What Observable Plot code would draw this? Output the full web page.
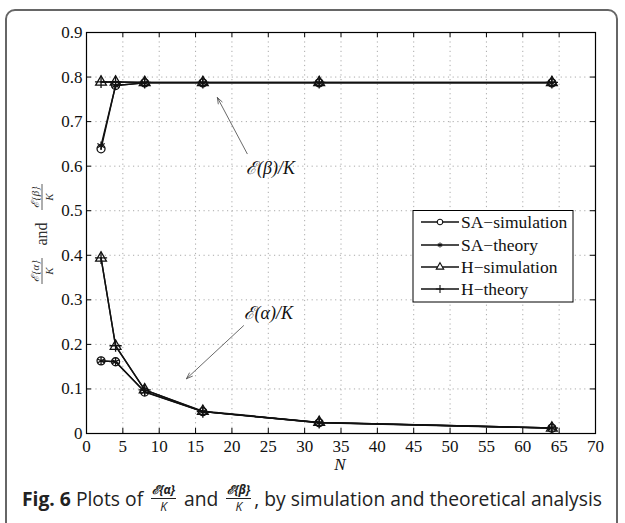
<!DOCTYPE html>
<html>
<head>
<meta charset="utf-8">
<script src="https://cdn.jsdelivr.net/npm/d3@7"></script>
<script src="https://cdn.jsdelivr.net/npm/@observablehq/plot@0.6"></script>
<style>
  html, body { margin: 0; padding: 0; background: #fff; }
  #wrap { position: relative; width: 625px; height: 523px; overflow: hidden; background: #fff; }
  #border { position: absolute; left: 5px; top: 9px; width: 613px; height: 540px;
            border: 2px solid #666; border-radius: 10px; box-sizing: border-box; }
  #chart { position: absolute; left: 0; top: 0; }
  #chart svg, #chart svg text { font-family: "Liberation Serif", serif !important; }
  #caption { position: absolute; left: 22px; top: 484px; white-space: nowrap;
             font-family: "Open Sans", sans-serif; font-size: 19.3px; color: #222; line-height: 1; }
  .frac { display: inline-flex; flex-direction: column; align-items: center; vertical-align: middle;
          font-size: 12px; margin: 0 3px; position: relative; top: -2px; }
  .frac .num { display: block; line-height: 16px; height: 16px; border-bottom: 1px solid #222; padding: 0 1px;
               font-weight: bold; font-style: italic; }
  .frac .den { display: block; line-height: 16px; height: 16px; font-style: italic; }
</style>
</head>
<body>
<div id="wrap">
  <div id="border"></div>
  <div id="chart"></div>
  <div id="caption"><b>Fig. 6</b> Plots of <span class="frac"><span class="num">ℰ{α}</span><span class="den">K</span></span> and <span class="frac"><span class="num">ℰ{β}</span><span class="den">K</span></span>, by simulation and theoretical analysis</div>
</div>
<script>
// ---- data ----
const N = [2, 4, 8, 16, 32, 64];
const seriesNames = ["SA\u2212simulation", "SA\u2212theory", "H\u2212simulation", "H\u2212theory"];
const seriesSymbols = ["circle", "asterisk", "triangle", "plus"];
const saSimAlpha = [0.163, 0.161, 0.093, 0.049, 0.024, 0.012];
const saSimBeta  = [0.639, 0.781, 0.787, 0.787, 0.787, 0.787];
const saThAlpha  = [0.163, 0.161, 0.094, 0.049, 0.0245, 0.0123];
const saThBeta   = [0.646, 0.781, 0.787, 0.787, 0.787, 0.787];
const hSimAlpha  = [0.394, 0.196, 0.098, 0.050, 0.025, 0.0125];
const hSimBeta   = [0.789, 0.789, 0.788, 0.788, 0.788, 0.788];
const hThAlpha   = [0.394, 0.197, 0.098, 0.049, 0.0246, 0.0123];
const hThBeta    = [0.789, 0.789, 0.788, 0.788, 0.788, 0.788];
const xTicks = [0, 5, 10, 15, 20, 25, 30, 35, 40, 45, 50, 55, 60, 65, 70];
const yTicks = [0, 0.1, 0.2, 0.3, 0.4, 0.5, 0.6, 0.7, 0.8, 0.9];
const annotations = [
  {text: "ℰ(β)/K", x: 25.3, y: 0.595, x1: 22.1, y1: 0.628, x2: 18.0, y2: 0.754},
  {text: "ℰ(α)/K", x: 25.0, y: 0.269, x1: 21.6, y1: 0.242, x2: 13.75, y2: 0.123}
];

const seriesData = [
  [saSimAlpha, saSimBeta], [saThAlpha, saThBeta], [hSimAlpha, hSimBeta], [hThAlpha, hThBeta]
];
const rows = [];
seriesData.forEach(([a, b], i) => {
  N.forEach((n, j) => {
    rows.push({series: seriesNames[i], metric: "alpha", N: n, v: a[j]});
    rows.push({series: seriesNames[i], metric: "beta", N: n, v: b[j]});
  });
});

const W = 625, H = 475, mL = 86, mR = 30, mT = 32, mB = 42;
const innerH = H - mT - mB;

const chart = Plot.plot({
  width: W, height: H,
  marginLeft: mL, marginRight: mR, marginTop: mT, marginBottom: mB,
  style: {fontFamily: "'Liberation Serif', serif", fontSize: "17px", color: "#111", background: "transparent"},
  x: {domain: [0, 70]},
  y: {domain: [0, 0.9]},
  symbol: {domain: seriesNames, range: seriesSymbols},
  marks: [
    Plot.gridX(xTicks, {stroke: "#aaa", strokeOpacity: 1, strokeDasharray: "1.2,3.5"}),
    Plot.gridY(yTicks, {stroke: "#aaa", strokeOpacity: 1, strokeDasharray: "1.2,3.5"}),
    Plot.tickX(xTicks, {x: d => d, stroke: "black", insetTop: innerH - 5}),
    Plot.tickX(xTicks, {x: d => d, stroke: "black", insetBottom: innerH - 5}),
    Plot.tickY(yTicks, {y: d => d, stroke: "black", insetRight: W - mL - mR - 5}),
    Plot.tickY(yTicks, {y: d => d, stroke: "black", insetLeft: W - mL - mR - 5}),
    Plot.axisX(xTicks, {anchor: "bottom", tickSize: 0, tickPadding: 6, label: null, fontSize: 17, tickFormat: d => String(d)}),
    Plot.axisY(yTicks, {anchor: "left", tickSize: 0, tickPadding: 4, label: null, fontSize: 17, tickFormat: d => d === 0 ? "0" : d.toFixed(1)}),
    Plot.frame({stroke: "black", strokeWidth: 1.2}),
    Plot.line(rows, {x: "N", y: "v", z: d => d.series + d.metric, stroke: "#111", strokeWidth: 1.4}),
    Plot.dot(rows, {x: "N", y: "v", symbol: "series", r: 4, stroke: "#111", fill: "none", strokeWidth: 1.3}),
    Plot.arrow(annotations, {x1: "x1", y1: "y1", x2: "x2", y2: "y2", stroke: "#444", strokeWidth: 0.8, headLength: 12, headAngle: 40}),
    Plot.text(annotations, {x: "x", y: "y", text: "text", fontStyle: "italic", fontSize: 18, fill: "#111"})
  ]
});
document.getElementById("chart").appendChild(chart);

// ---- extra text: x label, y label, legend ----
const svg = d3.select(chart);
svg.append("text").attr("x", 340).attr("y", 470).attr("text-anchor", "middle")
  .style("font-style", "italic").style("font-size", "17px")
  .attr("fill", "#111").text("N");

// y label: rotated fractions
const yl = svg.append("g").attr("transform", "translate(43,234) rotate(-90)").attr("fill", "#333");
function frac(g, cx, num) {
  g.append("text").attr("x", cx).attr("y", -4).attr("text-anchor", "middle")
    .style("font-size", "11px").style("font-style", "italic").text(num);
  g.append("line").attr("x1", cx - 13).attr("x2", cx + 13).attr("y1", -1).attr("y2", -1)
    .attr("stroke", "#333").attr("stroke-width", 0.8);
  g.append("text").attr("x", cx).attr("y", 10).attr("text-anchor", "middle")
    .style("font-size", "11px").style("font-style", "italic").text("K");
}
frac(yl, -37, "ℰ{α}");
yl.append("text").attr("x", 0).attr("y", 4).attr("text-anchor", "middle").style("font-size", "16px").text("and");
frac(yl, 37, "ℰ{β}");

// legend
const lg = svg.append("g");
lg.append("rect").attr("x", 413).attr("y", 210.5).attr("width", 160).attr("height", 91.5)
  .attr("fill", "white").attr("stroke", "black").attr("stroke-width", 1);
const rowY = [222, 245, 267, 289];
const legendSyms = [d3.symbolCircle, d3.symbolAsterisk, d3.symbolTriangle, d3.symbolPlus];
seriesNames.forEach((name, i) => {
  const y = rowY[i];
  lg.append("line").attr("x1", 421).attr("x2", 459).attr("y1", y).attr("y2", y)
    .attr("stroke", "#111").attr("stroke-width", 1.4);
  lg.append("path").attr("transform", `translate(440,${y})`)
    .attr("d", d3.symbol(legendSyms[i], i === 1 ? 18 : 24)())
    .attr("fill", "white").attr("stroke", "#111").attr("stroke-width", 1.1);
  lg.append("text").attr("x", 461).attr("y", y).attr("dy", "0.35em").attr("text-anchor", "start")
    .style("font-size", "17.5px").attr("fill", "#111").text(name);
});
</script>
</body>
</html>
